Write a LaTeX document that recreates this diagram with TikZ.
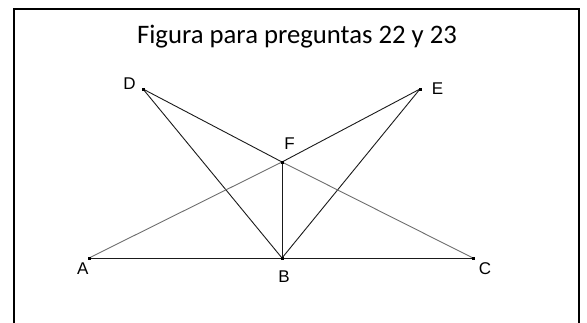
\documentclass[tikz,border=0pt]{standalone}
\usepackage{fontspec}
\setmainfont{Carlito}
\newfontfamily\labelfont{Liberation Sans}
\usepackage{tikz}
\usetikzlibrary{calc,positioning}
\definecolor{segdark}{HTML}{1a1a1a}
\definecolor{seglight}{HTML}{6e6e6e}

\begin{document}
\begin{tikzpicture}[x=1pt, y=-1pt,
  seg/.style={segdark, line width=0.9pt},
  segl/.style={seglight, line width=0.9pt},
  ptlabel/.style={font=\labelfont\fontsize{17}{17}\selectfont, inner sep=0pt}]
\useasboundingbox (0,0) rectangle (587,322);
% frame, open at the bottom edge
\draw[line width=2pt] (14,335) -- (14,9) -- (579,9) -- (579,335);
\node[font=\fontsize{26.7}{30}\selectfont] (title) at (297,37) {Figura para preguntas 22 y 23};
% points
\coordinate (A) at (89,258);
\coordinate (B) at (282,258);
\coordinate (C) at (473,258);
\coordinate (D) at (143,89);
\coordinate (E) at (420,89);
\coordinate (F) at (282,162);
% segments
\draw[seg] (A) -- (C);
\draw[seg] (D) -- (B);
\draw[seg] (E) -- (B);
\draw[seg] (F) -- (B);
\draw[seg] (D) -- (F);
\draw[seg] (F) -- (E);
\draw[segl] (A) -- (F);
\draw[segl] (F) -- (C);
\foreach \p in {A,B,C,D,E,F} {
  \fill (\p) ++(-1.5,-1.5) rectangle ++(3,3);
}
% labels
\node[ptlabel] (lA) at (82.7,269) {A};
\node[ptlabel] (lB) at (284,277) {B};
\node[ptlabel] (lC) at (485,269) {C};
\node[ptlabel] (lD) at (129.5,84) {D};
\node[ptlabel] (lE) at (437.5,88.5) {E};
\node[ptlabel] (lF) at (289.5,144) {F};
\end{tikzpicture}
\end{document}
